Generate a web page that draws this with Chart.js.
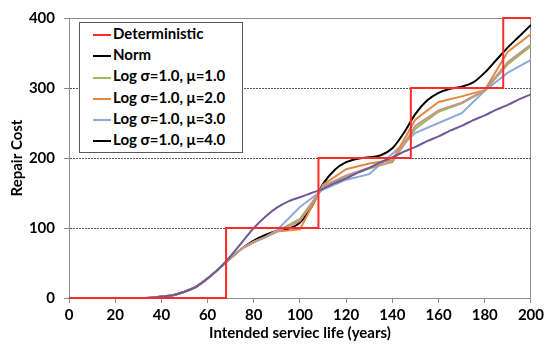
<!DOCTYPE html>
<html>
<head>
<meta charset="utf-8">
<script src="https://cdn.jsdelivr.net/npm/chart.js@4.4.1/dist/chart.umd.min.js"></script>
<style>
  body { margin: 0; background: #fff; }
  #wrap { position: relative; width: 547px; height: 349px; }
  #legend {
    position: absolute; left: 79px; top: 22px; width: 164px; height: 131px;
    box-sizing: border-box; border: 1px solid #595959; background: #fff;
    padding: 0 0 0 13px; font: bold 15px Lato, sans-serif; color: #000;
  }
  #legend .row { height: 21.2px; line-height: 21.2px; white-space: nowrap; }
  #legend .swatch { display: inline-block; width: 18px; height: 2px; vertical-align: middle; margin-right: 2px; }
</style>
</head>
<body>
<div id="wrap">
  <canvas id="myChart" width="547" height="349"></canvas>
  <div id="legend"></div>
</div>
<script>
// deterministic step
const stepX = [0, 68, 108, 148, 188, 200];
const stepY = [0, 100, 200, 300, 400, 400];

// smooth curves, every 5 years
const smoothX = [0, 5, 10, 15, 20, 25, 30, 35, 40, 45, 50, 55, 60, 65, 70, 75, 80, 85, 90, 95, 100,
  105, 110, 115, 120, 125, 130, 135, 140, 145, 150, 155, 160, 165, 170, 175, 180, 185, 190, 195, 200];
const normY = [0, 0, 0, 0, 0, 0, 0, 0.3, 2, 4, 9, 16, 28, 42, 57, 71, 82, 90, 96, 99, 108,
  130, 163, 183, 194, 199, 201, 204, 214, 236, 263, 282, 293, 299, 302, 308, 322, 340, 358, 374, 390];
const otherY = [0, 0, 0, 0, 0, 0, 0, 0.3, 2, 4, 9, 16, 28, 42, 60, 80, 100, 116, 129, 138, 144,
  150, 156, 164, 171, 179, 186, 194, 201, 209, 216, 224, 231, 239, 246, 254, 261, 269, 276, 284, 291];

// lognormal runs
const logX = [0, 10, 20, 30, 35, 40, 45, 50, 55, 60, 65, 70, 75, 80, 85, 90, 100, 110, 120, 130, 140, 150, 160, 170, 180, 190, 200];
const logMu1 = [0, 0, 0, 0, 0.3, 2, 4, 9, 16, 28, 42, 57, 71, 80, 87, 95, 113, 158, 173, 185, 195, 242, 266, 278, 296, 334, 360];
const logMu2 = [0, 0, 0, 0, 0.3, 2, 4, 9, 16, 28, 42, 57, 71, 80, 87, 95, 98, 162, 184, 192, 197, 255, 280, 288, 297, 352, 377];
const logMu3 = [0, 0, 0, 0, 0.3, 2, 4, 9, 16, 28, 42, 57, 71, 80, 87, 97, 130, 155, 169, 177, 206, 236, 250, 264, 296, 322, 340];
const logMu4 = [0, 0, 0, 0, 0.3, 2, 4, 9, 16, 28, 42, 57, 71, 80, 87, 95, 110, 160, 175, 186, 194, 246, 268, 279, 297, 337, 362];

const xTicks = [0, 20, 40, 60, 80, 100, 120, 140, 160, 180, 200];
const yTicks = [0, 100, 200, 300, 400];

function pts(xs, ys) {
  return xs.map((x, i) => ({ x: x, y: ys[i] }));
}

const fontTick = { family: 'Lato', size: 15, weight: 'bold' };

const datasets = [
  { label: 'Deterministic', data: pts(stepX, stepY), borderColor: '#ff2a2a', stepped: 'before', order: 0, clip: 4 },
  { label: 'Norm', data: pts(smoothX, normY), borderColor: '#000000', cubicInterpolationMode: 'monotone', order: 7 },
  { label: 'Log σ=1.0, μ=1.0', data: pts(logX, logMu1), borderColor: '#9bbb59', order: 4 },
  { label: 'Log σ=1.0, μ=2.0', data: pts(logX, logMu2), borderColor: '#e5883f', order: 5 },
  { label: 'Log σ=1.0, μ=3.0', data: pts(logX, logMu3), borderColor: '#8eaad9', order: 6 },
  { label: 'Log σ=1.0, μ=4.0', data: pts(logX, logMu4), borderColor: '#c4958e', legendColor: '#000000', order: 3 },
  { label: '', data: pts(smoothX, otherY), borderColor: '#6e5b98', cubicInterpolationMode: 'monotone', order: 1 }
];
datasets.forEach(d => { d.borderWidth = 2; d.pointRadius = 0; d.fill = false; });

new Chart('myChart', {
  type: 'line',
  data: { datasets: datasets },
  options: {
    responsive: false,
    animation: false,
    devicePixelRatio: 1,
    layout: { padding: { left: 0, right: 12, top: 16, bottom: 0 } },
    plugins: { legend: { display: false }, tooltip: { enabled: false } },
    scales: {
      x: {
        type: 'linear', min: 0, max: 200,
        afterBuildTicks: s => { s.ticks = xTicks.map(v => ({ value: v })); },
        afterFit: s => { s.height = 51; },
        ticks: { color: '#000', font: fontTick, padding: 3, maxRotation: 0 },
        grid: {
          color: c => (c.tick && c.tick.value === 200) ? '#8c8c8c' : 'rgba(0,0,0,0)',
          tickColor: '#8c8c8c', tickLength: 5, drawTicks: true
        },
        border: { color: '#8c8c8c', width: 1 },
        title: { display: true, text: 'Intended serviec life (years)', color: '#000', font: fontTick, padding: { top: 0, bottom: 7 } }
      },
      y: {
        min: 0, max: 400,
        afterBuildTicks: s => { s.ticks = yTicks.map(v => ({ value: v })); },
        afterFit: s => { s.width = 69; },
        ticks: { color: '#000', font: fontTick, padding: 9 },
        grid: {
          color: c => {
            if (!c.tick) return '#8c8c8c';
            if (c.tick.value === 400) return '#8c8c8c';
            if (c.tick.value === 0) return 'rgba(0,0,0,0)';
            return '#555555';
          },
          tickColor: '#8c8c8c', tickLength: 5
        },
        border: {
          color: '#8c8c8c', width: 1,
          dash: c => (c.tick && c.tick.value > 0 && c.tick.value < 400) ? [2, 1] : []
        },
        title: { display: true, text: 'Repair Cost', color: '#000', font: fontTick, padding: { top: 8, bottom: 0 } }
      }
    }
  }
});

// legend box inside the plot
var html = '';
datasets.forEach(function (d) {
  if (!d.label) return;
  html += "<div class='row'><span class='swatch' style='background:" + (d.legendColor || d.borderColor) + "'></span>" + d.label + "</div>";
});
document.getElementById('legend').innerHTML = html;
</script>
</body>
</html>
